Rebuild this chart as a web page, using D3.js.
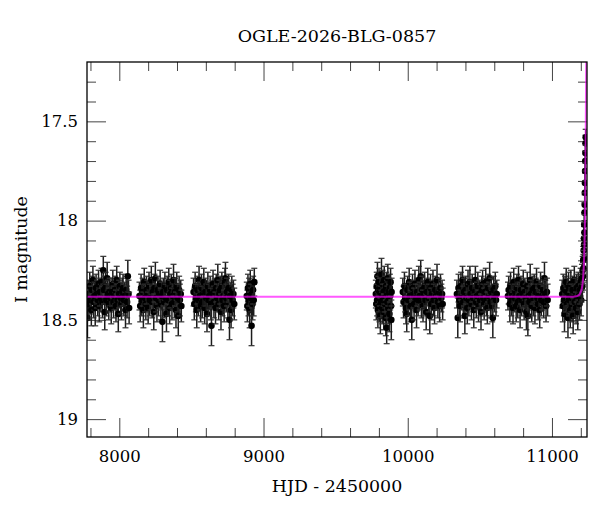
<!DOCTYPE html>

<head>
    <meta charset="utf-8">
    <title>OGLE-2026-BLG-0857</title>
    <script type="text/javascript" src="https://d3js.org/d3.v7.min.js"></script>
    <style>
        body { margin: 0; background: #fff; }
        text { font-family: "DejaVu Serif", serif; fill: #000; }
    </style>
</head>

<body>
    <div id="container"></div>
    <script>
        //------------------------1. DATA------------------------//
        // observations per season: [HJD - 2450000, I mag, error]
        var season1 = [[7779,18.49,0.10],[7784,18.37,0.07],[7789,18.42,0.08],[7795,18.33,0.07],[7800,18.40,0.07],[7806,18.45,0.08],[7811,18.35,0.07],[7817,18.30,0.07],[7822,18.41,0.08],[7828,18.38,0.07],[7833,18.44,0.09],[7839,18.34,0.07],[7845,18.37,0.07],[7850,18.40,0.08],[7856,18.32,0.07],[7861,18.43,0.08],[7866,18.36,0.07],[7872,18.39,0.07],[7877,18.31,0.07],[7883,18.41,0.08],[7889,18.25,0.07],[7894,18.35,0.07],[7899,18.46,0.09],[7905,18.33,0.07],[7910,18.40,0.08],[7916,18.29,0.08],[7921,18.37,0.07],[7927,18.42,0.08],[7933,18.36,0.07],[7938,18.39,0.07],[7944,18.44,0.08],[7949,18.36,0.07],[7955,18.32,0.07],[7960,18.41,0.08],[7966,18.38,0.07],[7971,18.35,0.07],[7977,18.43,0.08],[7982,18.30,0.07],[7988,18.40,0.08],[7993,18.47,0.09],[7999,18.37,0.07],[8004,18.33,0.07],[8010,18.39,0.08],[8015,18.42,0.08],[8021,18.36,0.07],[8026,18.34,0.07],[8032,18.40,0.08],[8037,18.38,0.07],[8043,18.45,0.09],[8048,18.35,0.07],[8054,18.41,0.08],[8059,18.28,0.08],[8064,18.37,0.07],[8068,18.44,0.08]];
        var season2 = [[8140,18.38,0.07],[8145,18.43,0.08],[8151,18.34,0.07],[8156,18.40,0.08],[8162,18.36,0.07],[8167,18.45,0.09],[8173,18.31,0.07],[8178,18.39,0.07],[8184,18.42,0.08],[8189,18.35,0.07],[8195,18.37,0.07],[8200,18.44,0.08],[8206,18.33,0.07],[8211,18.40,0.08],[8217,18.38,0.07],[8222,18.30,0.07],[8228,18.41,0.08],[8233,18.36,0.07],[8239,18.46,0.09],[8244,18.34,0.07],[8250,18.29,0.08],[8255,18.39,0.07],[8261,18.43,0.08],[8266,18.35,0.07],[8272,18.40,0.08],[8277,18.37,0.07],[8283,18.32,0.07],[8288,18.42,0.08],[8294,18.38,0.07],[8299,18.51,0.10],[8305,18.36,0.07],[8310,18.41,0.08],[8316,18.33,0.07],[8321,18.39,0.07],[8327,18.47,0.09],[8332,18.35,0.07],[8338,18.40,0.08],[8343,18.31,0.07],[8349,18.44,0.08],[8354,18.37,0.07],[8360,18.34,0.07],[8365,18.42,0.08],[8371,18.38,0.07],[8376,18.30,0.08],[8382,18.41,0.08],[8387,18.36,0.07],[8393,18.45,0.09],[8398,18.33,0.07],[8404,18.39,0.07],[8409,18.48,0.10],[8415,18.35,0.07],[8420,18.40,0.08],[8426,18.37,0.07],[8430,18.43,0.08]];
        var season3 = [[8515,18.36,0.07],[8520,18.42,0.08],[8526,18.33,0.07],[8531,18.39,0.07],[8537,18.45,0.09],[8542,18.35,0.07],[8548,18.40,0.08],[8553,18.30,0.07],[8559,18.38,0.07],[8564,18.43,0.08],[8570,18.34,0.07],[8575,18.41,0.08],[8581,18.37,0.07],[8586,18.31,0.07],[8592,18.44,0.08],[8597,18.36,0.07],[8603,18.39,0.07],[8608,18.47,0.09],[8614,18.33,0.07],[8619,18.40,0.08],[8625,18.38,0.07],[8630,18.35,0.07],[8635,18.42,0.08],[8639,18.53,0.10],[8645,18.37,0.07],[8650,18.32,0.07],[8656,18.41,0.08],[8661,18.36,0.07],[8667,18.44,0.08],[8672,18.34,0.07],[8678,18.39,0.07],[8683,18.30,0.08],[8689,18.42,0.08],[8694,18.37,0.07],[8700,18.35,0.07],[8705,18.46,0.09],[8711,18.33,0.07],[8716,18.40,0.08],[8722,18.38,0.07],[8727,18.43,0.08],[8733,18.31,0.07],[8736,18.29,0.08],[8742,18.39,0.07],[8747,18.36,0.07],[8753,18.41,0.08],[8758,18.34,0.07],[8764,18.50,0.10],[8769,18.38,0.07],[8775,18.45,0.09],[8780,18.35,0.07],[8786,18.40,0.08],[8791,18.37,0.07],[8797,18.42,0.08]];
        var season4 = [[8884,18.38,0.07],[8888,18.43,0.08],[8892,18.34,0.07],[8896,18.40,0.08],[8900,18.36,0.07],[8904,18.45,0.09],[8908,18.32,0.07],[8912,18.39,0.07],[8917,18.53,0.10],[8920,18.37,0.07],[8924,18.42,0.08],[8928,18.35,0.07],[8932,18.40,0.08],[8936,18.31,0.07]];
        var season5 = [[9779,18.37,0.07],[9782,18.42,0.08],[9785,18.33,0.07],[9788,18.40,0.08],[9790,18.28,0.07],[9793,18.45,0.09],[9796,18.35,0.07],[9799,18.39,0.07],[9801,18.31,0.07],[9804,18.43,0.08],[9807,18.36,0.07],[9810,18.48,0.09],[9812,18.34,0.07],[9815,18.41,0.08],[9818,18.27,0.08],[9821,18.38,0.07],[9823,18.44,0.08],[9826,18.32,0.07],[9829,18.40,0.08],[9832,18.36,0.07],[9834,18.46,0.09],[9837,18.30,0.07],[9840,18.39,0.07],[9843,18.42,0.08],[9845,18.35,0.07],[9848,18.49,0.09],[9851,18.33,0.07],[9854,18.54,0.08],[9856,18.37,0.07],[9859,18.41,0.08],[9862,18.29,0.07],[9865,18.44,0.08],[9867,18.36,0.07],[9870,18.40,0.08],[9873,18.47,0.09],[9876,18.34,0.07],[9878,18.38,0.07],[9881,18.31,0.07],[9884,18.43,0.08],[9886,18.50,0.10],[9888,18.36,0.07]];
        var season6 = [[9966,18.36,0.07],[9971,18.41,0.08],[9977,18.33,0.07],[9982,18.39,0.07],[9988,18.44,0.08],[9993,18.47,0.09],[9999,18.35,0.07],[10004,18.40,0.08],[10010,18.31,0.07],[10015,18.38,0.07],[10021,18.43,0.08],[10028,18.50,0.10],[10033,18.34,0.07],[10039,18.37,0.07],[10044,18.42,0.08],[10050,18.32,0.07],[10055,18.39,0.07],[10061,18.45,0.09],[10066,18.36,0.07],[10072,18.40,0.08],[10077,18.30,0.07],[10083,18.38,0.07],[10090,18.28,0.08],[10095,18.41,0.08],[10101,18.35,0.07],[10106,18.43,0.08],[10112,18.37,0.07],[10117,18.33,0.07],[10123,18.40,0.08],[10128,18.46,0.09],[10134,18.36,0.07],[10139,18.31,0.07],[10145,18.39,0.07],[10153,18.48,0.09],[10158,18.34,0.07],[10164,18.42,0.08],[10169,18.37,0.07],[10175,18.32,0.07],[10180,18.40,0.08],[10186,18.44,0.08],[10191,18.35,0.07],[10197,18.38,0.07],[10203,18.30,0.08],[10209,18.41,0.08],[10215,18.36,0.07],[10221,18.43,0.08],[10227,18.34,0.07],[10233,18.39,0.07],[10238,18.37,0.07],[10242,18.42,0.08]];
        var season7 = [[10341,18.37,0.07],[10347,18.49,0.10],[10352,18.34,0.07],[10358,18.40,0.08],[10363,18.43,0.08],[10369,18.33,0.07],[10374,18.38,0.07],[10380,18.30,0.07],[10385,18.41,0.08],[10391,18.36,0.07],[10396,18.48,0.09],[10402,18.35,0.07],[10407,18.39,0.07],[10413,18.44,0.08],[10418,18.32,0.07],[10424,18.40,0.08],[10431,18.31,0.08],[10436,18.37,0.07],[10442,18.42,0.08],[10447,18.34,0.07],[10453,18.39,0.07],[10458,18.45,0.09],[10464,18.36,0.07],[10469,18.30,0.07],[10475,18.41,0.08],[10480,18.38,0.07],[10486,18.33,0.07],[10491,18.43,0.08],[10497,18.37,0.07],[10502,18.40,0.08],[10508,18.46,0.09],[10513,18.35,0.07],[10519,18.32,0.07],[10524,18.39,0.07],[10530,18.42,0.08],[10535,18.36,0.07],[10541,18.31,0.07],[10546,18.40,0.08],[10552,18.44,0.08],[10557,18.34,0.07],[10563,18.38,0.07],[10568,18.29,0.08],[10574,18.41,0.08],[10579,18.36,0.07],[10585,18.43,0.08],[10590,18.49,0.10],[10596,18.35,0.07],[10601,18.39,0.07],[10607,18.33,0.07],[10612,18.40,0.08],[10617,18.37,0.07]];
        var season8 = [[10695,18.38,0.07],[10700,18.35,0.07],[10708,18.42,0.09],[10713,18.33,0.07],[10719,18.40,0.08],[10724,18.37,0.07],[10730,18.44,0.08],[10735,18.31,0.07],[10741,18.39,0.07],[10746,18.36,0.07],[10752,18.43,0.08],[10757,18.34,0.07],[10763,18.41,0.08],[10768,18.30,0.07],[10774,18.38,0.07],[10779,18.45,0.09],[10785,18.35,0.07],[10790,18.40,0.08],[10796,18.37,0.07],[10801,18.32,0.07],[10807,18.42,0.08],[10812,18.36,0.07],[10818,18.39,0.07],[10823,18.46,0.09],[10829,18.33,0.07],[10833,18.48,0.10],[10838,18.38,0.07],[10844,18.41,0.08],[10849,18.30,0.08],[10855,18.37,0.07],[10860,18.43,0.08],[10866,18.35,0.07],[10871,18.40,0.08],[10877,18.34,0.07],[10882,18.44,0.08],[10888,18.36,0.07],[10893,18.31,0.07],[10899,18.39,0.07],[10904,18.42,0.08],[10910,18.37,0.07],[10915,18.45,0.09],[10921,18.33,0.07],[10926,18.40,0.08],[10932,18.38,0.07],[10937,18.35,0.07],[10943,18.41,0.08],[10948,18.29,0.08],[10954,18.37,0.07],[10959,18.43,0.08],[10965,18.36,0.07],[10970,18.40,0.08]];
        var season9 = [[11071,18.37,0.07],[11075,18.43,0.08],[11079,18.34,0.07],[11083,18.40,0.08],[11087,18.47,0.09],[11091,18.35,0.07],[11095,18.39,0.07],[11099,18.31,0.07],[11103,18.42,0.08],[11107,18.36,0.07],[11111,18.49,0.10],[11115,18.33,0.07],[11119,18.40,0.08],[11123,18.38,0.07],[11127,18.45,0.09],[11131,18.32,0.07],[11135,18.39,0.07],[11139,18.43,0.08],[11143,18.35,0.07],[11147,18.48,0.09],[11151,18.37,0.07],[11155,18.30,0.07],[11159,18.41,0.08],[11163,18.36,0.07],[11167,18.44,0.08],[11171,18.34,0.07],[11175,18.39,0.07],[11179,18.46,0.09],[11183,18.33,0.07],[11187,18.38,0.07],[11191,18.42,0.08],[11195,18.35,0.07],[11199,18.31,0.07],[11202,18.40,0.08],[11205,18.34,0.07],[11208,18.29,0.07],[11211,18.33,0.07],[11213,18.25,0.07],[11215,18.28,0.07],[11217,18.20,0.07],[11218,18.24,0.07],[11220,18.15,0.06],[11221,18.19,0.06],[11222,18.09,0.06],[11223,18.12,0.06],[11224,18.02,0.06],[11225,18.06,0.06],[11226,17.96,0.05],[11227,17.92,0.05],[11228,17.86,0.05],[11229,17.81,0.05],[11230,17.75,0.05],[11231,17.70,0.05],[11232,17.66,0.05],[11233,17.61,0.04],[11234,17.58,0.04]];
        var seasons = [season1, season2, season3, season4, season5, season6, season7, season8, season9];

        // microlensing model
        var modelT = [7770, 11150, 11175, 11192, 11205, 11213, 11218, 11222, 11226, 11229, 11232, 11235, 11238];
        var modelMag = [18.383, 18.383, 18.380, 18.372, 18.350, 18.315, 18.270, 18.210, 18.120, 18.000, 17.780, 17.480, 17.150];

        var xMajor = [8000, 9000, 10000, 11000];
        var xMinor = [7800, 8200, 8400, 8600, 8800, 9200, 9400, 9600, 9800, 10200, 10400, 10600, 10800, 11200];
        var yMajor = [17.5, 18, 18.5, 19];
        var yMinor = [17.3, 17.4, 17.6, 17.7, 17.8, 17.9, 18.1, 18.2, 18.3, 18.4, 18.6, 18.7, 18.8, 18.9];

        //------------------------2. PREPARATION------------------------//
        var W = 600, H = 512,
            margin = { top: 62, right: 13, bottom: 75, left: 87 },
            width = W - margin.left - margin.right,
            height = H - margin.top - margin.bottom;

        var x = d3.scaleLinear().domain([7776, 11243]).range([0, width]),
            y = d3.scaleLinear().domain([17.201, 19.09]).range([0, height]);

        var svg = d3.select("div#container").append("svg")
            .attr("width", W).attr("height", H);

        svg.append("defs").append("clipPath").attr("id", "plotclip")
            .append("rect").attr("width", width).attr("height", height);

        var g = svg.append("g")
            .attr("transform", "translate(" + margin.left + "," + margin.top + ")");

        //-----------------------------AXES-----------------------------//
        function styleAxis(sel) {
            sel.select(".domain").remove();
            sel.selectAll(".tick line").attr("stroke", "#444").attr("stroke-width", 1);
            sel.selectAll("text").style("font-size", "16.5px").style("font-family", "DejaVu Serif");
        }

        g.append("g").attr("transform", "translate(0," + height + ")")
            .call(d3.axisBottom(x).tickValues(xMajor).tickSize(-19).tickPadding(13).tickFormat(d3.format("d")))
            .call(styleAxis);
        g.append("g").attr("transform", "translate(0," + height + ")")
            .call(d3.axisBottom(x).tickValues(xMinor).tickSize(-9).tickFormat(""))
            .call(styleAxis);
        g.append("g")
            .call(d3.axisTop(x).tickValues(xMajor).tickSize(-19).tickFormat(""))
            .call(styleAxis);
        g.append("g")
            .call(d3.axisTop(x).tickValues(xMinor).tickSize(-9).tickFormat(""))
            .call(styleAxis);

        g.append("g")
            .call(d3.axisLeft(y).tickValues(yMajor).tickSize(-19).tickPadding(9).tickFormat(d3.format("")))
            .call(styleAxis);
        g.append("g")
            .call(d3.axisLeft(y).tickValues(yMinor).tickSize(-9).tickFormat(""))
            .call(styleAxis);
        g.append("g").attr("transform", "translate(" + width + ",0)")
            .call(d3.axisRight(y).tickValues(yMajor).tickSize(-19).tickFormat(""))
            .call(styleAxis);
        g.append("g").attr("transform", "translate(" + width + ",0)")
            .call(d3.axisRight(y).tickValues(yMinor).tickSize(-9).tickFormat(""))
            .call(styleAxis);

        //----------------------------POINTS----------------------------//
        var obs = [].concat.apply([], seasons);
        var pts = g.append("g").attr("clip-path", "url(#plotclip)")
            .selectAll("g.obs").data(obs).enter().append("g").attr("class", "obs");

        pts.append("line")
            .attr("x1", function (d) { return x(d[0]); })
            .attr("x2", function (d) { return x(d[0]); })
            .attr("y1", function (d) { return y(d[1] - d[2]); })
            .attr("y2", function (d) { return y(d[1] + d[2]); })
            .attr("stroke", "#1c1c1c").attr("stroke-width", 1.5);
        [-1, 1].forEach(function (s) {
            pts.append("line")
                .attr("x1", function (d) { return x(d[0]) - 3; })
                .attr("x2", function (d) { return x(d[0]) + 3; })
                .attr("y1", function (d) { return y(d[1] + s * d[2]); })
                .attr("y2", function (d) { return y(d[1] + s * d[2]); })
                .attr("stroke", "#333").attr("stroke-width", 1.2);
        });
        pts.append("circle")
            .attr("cx", function (d) { return x(d[0]); })
            .attr("cy", function (d) { return y(d[1]); })
            .attr("r", 3.3)
            .attr("fill", "#000");

        //----------------------------MODEL-----------------------------//
        var model = d3.line()
            .x(function (d) { return x(d[0]); })
            .y(function (d) { return y(d[1]); });
        g.append("path")
            .datum(modelT.map(function (t, i) { return [t, modelMag[i]]; }))
            .attr("clip-path", "url(#plotclip)")
            .attr("d", model)
            .attr("fill", "none")
            .attr("stroke", "#ff00ff")
            .attr("stroke-opacity", 0.65)
            .attr("stroke-width", 2);

        //----------------------------FRAME-----------------------------//
        g.append("rect")
            .attr("width", width).attr("height", height)
            .attr("fill", "none").attr("stroke", "#000").attr("stroke-width", 1.3);

        //----------------------------LABELS----------------------------//
        svg.append("text")
            .attr("x", margin.left + width / 2).attr("y", 42)
            .attr("text-anchor", "middle").style("font-size", "17.5px")
            .text("OGLE-2026-BLG-0857");
        svg.append("text")
            .attr("x", margin.left + width / 2).attr("y", 492)
            .attr("text-anchor", "middle").style("font-size", "17.4px")
            .text("HJD - 2450000");
        svg.append("text")
            .attr("transform", "translate(27," + (margin.top + height / 2) + ") rotate(-90)")
            .attr("text-anchor", "middle").style("font-size", "17.4px")
            .text("I magnitude");
    </script>
</body>
